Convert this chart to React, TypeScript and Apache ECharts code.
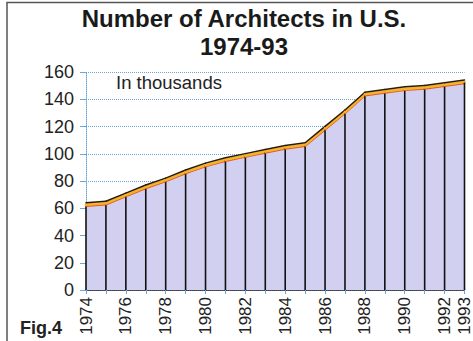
import React, { useEffect, useRef } from "react";
import * as echarts from "echarts";

const years: string[] = [
  "1974", "1975", "1976", "1977", "1978", "1979", "1980", "1981", "1982", "1983",
  "1984", "1985", "1986", "1987", "1988", "1989", "1990", "1991", "1992", "1993",
];
const architects: number[] = [
  63, 64, 70, 76, 81, 87, 92, 96, 99, 102,
  105, 107, 119, 131, 144, 146, 148, 149, 151, 153,
];
const yTicks: number[] = [0, 20, 40, 60, 80, 100, 120, 140, 160];

const FONT = "'Liberation Sans', Arial, Helvetica, sans-serif";

export default function App() {
  const ref = useRef<HTMLDivElement>(null);
  useEffect(() => {
    if (!ref.current) return;
    const chart = echarts.init(ref.current, null, { renderer: "svg" });
    const n = architects.length;
    const titleStyle = {
      fontFamily: FONT,
      fontSize: 24,
      fontWeight: "bold",
      color: "#1a1a1a",
      lineHeight: 24,
    };
    chart.setOption({
      animation: false,
      backgroundColor: "#ffffff",
      title: [
        {
          text: "Number of Architects in U.S.",
          left: 244,
          textAlign: "center",
          top: 6,
          padding: 0,
          textStyle: titleStyle,
        },
        {
          text: "1974-93",
          left: 244,
          textAlign: "center",
          top: 34,
          padding: 0,
          textStyle: titleStyle,
        },
      ],
      grid: { left: 86, right: 8, top: 72, bottom: 51 },
      xAxis: {
        type: "category",
        data: years,
        boundaryGap: false,
        axisLine: { show: true, lineStyle: { color: "#222", width: 1.5 } },
        axisTick: {
          show: true,
          interval: 0,
          length: 4,
          lineStyle: { color: "#6aa6dc", width: 1 },
        },
        axisLabel: {
          interval: (i: number) => i % 2 === 0 || i === n - 1,
          rotate: 90,
          margin: 7,
          fontFamily: FONT,
          fontSize: 17,
          color: "#222",
        },
        splitLine: { show: false },
      },
      yAxis: {
        type: "value",
        min: yTicks[0],
        max: yTicks[yTicks.length - 1],
        interval: 20,
        axisLine: {
          show: true,
          lineStyle: { color: "#6aa6dc", type: "dotted", width: 1 },
        },
        axisTick: {
          show: true,
          length: 6,
          lineStyle: { color: "#6aa6dc", width: 1 },
        },
        axisLabel: {
          margin: 12,
          fontFamily: FONT,
          fontSize: 18,
          color: "#222",
        },
        splitLine: {
          show: true,
          lineStyle: { color: "#6aa6dc", type: "dotted", width: 1 },
        },
      },
      series: [
        {
          type: "line",
          data: architects,
          symbol: "none",
          lineStyle: { width: 0 },
          areaStyle: { color: "#d2d0f0", opacity: 1 },
          z: 2,
        },
        {
          type: "custom",
          data: architects.map((v, i) => [i, v]),
          z: 3,
          renderItem: (params: any, api: any) => {
            const i = params.dataIndex;
            const p = api.coord([i, architects[i]]);
            const base = api.coord([i, 0]);
            const children: any[] = [
              {
                type: "line",
                shape: { x1: base[0], y1: base[1], x2: p[0], y2: p[1] + 1 },
                style: { stroke: "#111", lineWidth: 1.6 },
              },
            ];
            if (i < n - 1) {
              const q = api.coord([i + 1, architects[i + 1]]);
              children.push({
                type: "line",
                shape: { x1: p[0], y1: p[1] + 2, x2: q[0], y2: q[1] + 2 },
                style: { stroke: "#e8552a", lineWidth: 1.5, lineCap: "round" },
              });
              children.push({
                type: "line",
                shape: { x1: p[0], y1: p[1] + 0.5, x2: q[0], y2: q[1] + 0.5 },
                style: { stroke: "#f6b323", lineWidth: 2.6, lineCap: "round" },
              });
              children.push({
                type: "line",
                shape: { x1: p[0], y1: p[1] - 1.5, x2: q[0], y2: q[1] - 1.5 },
                style: { stroke: "#2a1a08", lineWidth: 1.5, lineCap: "round" },
              });
            }
            return { type: "group", children };
          },
        },
      ],
      graphic: [
        {
          type: "rect",
          shape: { x: 7, y: 2.5, width: 470, height: 345 },
          style: { fill: "none", stroke: "#555", lineWidth: 1.5 },
          z: 0,
        },
        {
          type: "text",
          left: 116,
          top: 73,
          style: {
            text: "In thousands",
            fontFamily: FONT,
            fontSize: 18.5,
            fill: "#222",
          },
        },
        {
          type: "text",
          left: 20,
          top: 319,
          style: {
            text: "Fig.4",
            fontFamily: FONT,
            fontSize: 18,
            fontWeight: "bold",
            fill: "#222",
          },
        },
      ],
    });
    return () => chart.dispose();
  }, []);
  return (
    <div
      ref={ref}
      style={{ position: "absolute", left: 0, top: 0, width: 473, height: 341 }}
    />
  );
}
